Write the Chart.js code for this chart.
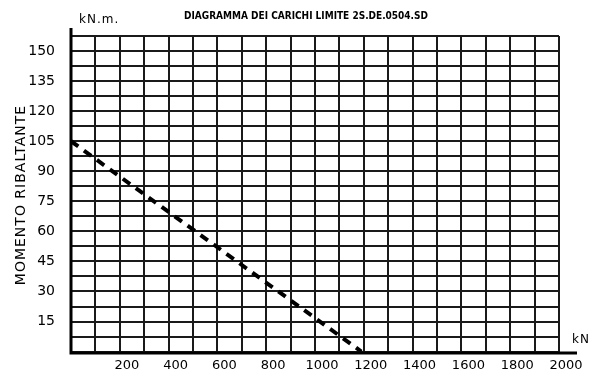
<!DOCTYPE html>
<html>
<head>
<meta charset="utf-8">
<script src="https://cdn.jsdelivr.net/npm/chart.js@4"></script>
<style>
  body { margin: 0; background: #fff; }
  canvas { display: block; }
</style>
</head>
<body>
<canvas id="chart" width="592" height="376"></canvas>
<script>
// dati
const forzaKN = [0, 1190];          // kN
const momentoKNm = [105, 0];        // kN.m
const xMax = 2000, xStep = 100, xLabelStep = 200;
const yMax = 157.5, yStep = 7.5, yLabelStep = 15;

const titolo = "DIAGRAMMA DEI CARICHI LIMITE 2S.DE.0504.SD";
const titoloY = "MOMENTO RIBALTANTE";
const unitaY = "kN.m.";
const unitaX = "kN";

const punti = forzaKN.map((x, i) => ({ x: x, y: momentoKNm[i] }));

// testi e assi disegnati a mano
const extraPlugin = {
  id: "extra",
  afterDraw(chart) {
    const ctx = chart.ctx;
    const a = chart.chartArea;
    ctx.save();
    ctx.fillStyle = "#000";
    ctx.strokeStyle = "#000";

    // assi spessi
    ctx.lineWidth = 3;
    ctx.beginPath();
    ctx.moveTo(a.left, 28);
    ctx.lineTo(a.left, a.bottom + 1.5);
    ctx.lineTo(577, a.bottom + 1.5);
    ctx.stroke();

    // titolo
    ctx.font = "bold 10px 'DejaVu Sans Condensed', 'DejaVu Sans'";
    ctx.textAlign = "center";
    ctx.textBaseline = "middle";
    ctx.fillText(titolo, 306, 16, 288);

    // unità
    ctx.font = "12px 'DejaVu Sans'";
    ctx.textAlign = "left";
    ctx.letterSpacing = "1px";
    ctx.fillText(unitaY, 79, 20);
    ctx.fillText(unitaX, 572, 340);

    // titolo asse y
    ctx.font = "14px 'DejaVu Sans'";
    ctx.translate(21, 195);
    ctx.rotate(-Math.PI / 2);
    ctx.textAlign = "center";
    ctx.fillText(titoloY, 0, 0);
    ctx.restore();
  }
};

new Chart(document.getElementById("chart"), {
  type: "scatter",
  data: {
    datasets: [{
      data: punti,
      showLine: true,
      borderColor: "#000",
      borderWidth: 4,
      borderDash: [9, 7],
      pointRadius: 0,
      fill: false
    }]
  },
  options: {
    responsive: false,
    animation: false,
    devicePixelRatio: 1,
    layout: { padding: { top: 36, right: 33, left: 0, bottom: 0 } },
    plugins: { legend: { display: false }, tooltip: { enabled: false } },
    scales: {
      x: {
        type: "linear",
        min: 0,
        max: xMax,
        afterFit: s => { s.height = 20; },
        grid: { color: "#1a1a1a", lineWidth: 2, drawTicks: false },
        border: { display: false },
        ticks: {
          stepSize: xStep,
          autoSkip: false,
          maxRotation: 0,
          padding: 6,
          labelOffset: 7,
          color: "#000",
          font: { family: "DejaVu Sans", size: 13 },
          callback: v => (v > 0 && v % xLabelStep === 0) ? v : ""
        }
      },
      y: {
        type: "linear",
        min: 0,
        max: yMax,
        afterFit: s => { s.width = 71; },
        grid: { color: "#1a1a1a", lineWidth: 2, drawTicks: false },
        border: { display: false },
        ticks: {
          stepSize: yStep,
          autoSkip: false,
          padding: 16,
          color: "#000",
          font: { family: "DejaVu Sans", size: 14 },
          callback: v => (v > 0 && v % yLabelStep === 0) ? v : ""
        }
      }
    }
  },
  plugins: [extraPlugin]
});
</script>
</body>
</html>
